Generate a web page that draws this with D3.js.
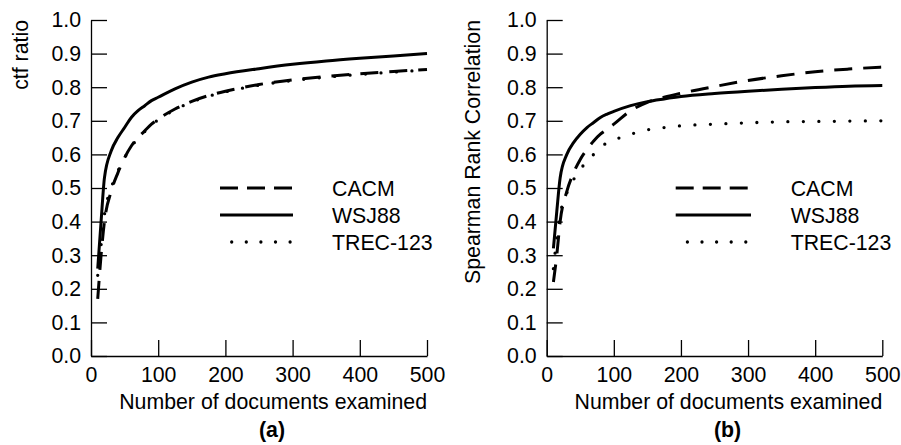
<!DOCTYPE html>
<html><head><meta charset="utf-8">
<script src="https://cdn.jsdelivr.net/npm/d3@7"></script>
<style>
body{margin:0;background:#fff;}
svg{display:block;font-family:"Liberation Sans",Arial,Helvetica,sans-serif;}
</style></head>
<body>
<svg id="c" width="901" height="445"></svg>
<script>
const xValues = [10,15,20,30,40,50,60,70,80,90,100,125,150,175,200,250,300,350,400,450,500];

const cacmA  = [0.17,0.30,0.40,0.49,0.545,0.59,0.625,0.65,0.67,0.69,0.705,0.735,0.758,0.775,0.788,0.808,0.822,0.832,0.840,0.847,0.853];
const wsjA   = [0.26,0.40,0.53,0.61,0.65,0.68,0.71,0.73,0.745,0.76,0.77,0.795,0.815,0.83,0.84,0.855,0.868,0.878,0.886,0.893,0.90];
const trecA  = [0.24,0.33,0.42,0.50,0.55,0.59,0.623,0.648,0.668,0.688,0.703,0.733,0.756,0.773,0.786,0.806,0.82,0.83,0.838,0.845,0.851];

const cacmB  = [0.22,0.30,0.40,0.49,0.545,0.585,0.615,0.64,0.66,0.675,0.69,0.73,0.755,0.77,0.782,0.802,0.82,0.834,0.846,0.854,0.86];
const wsjB   = [0.32,0.43,0.53,0.60,0.635,0.66,0.68,0.695,0.71,0.72,0.728,0.745,0.757,0.765,0.772,0.781,0.788,0.794,0.799,0.803,0.805];
const trecB  = [0.26,0.35,0.42,0.485,0.525,0.555,0.58,0.60,0.62,0.635,0.643,0.66,0.673,0.68,0.685,0.69,0.694,0.697,0.698,0.699,0.70];

const seriesNames = ["CACM","WSJ88","TREC-123"];
const xTicks = [0,100,200,300,400,500];
const yTicks = [0,0.1,0.2,0.3,0.4,0.5,0.6,0.7,0.8,0.9,1.0];
const panels = [
  {label:"(a)", yTitle:"ctf ratio", series:[cacmA,wsjA,trecA]},
  {label:"(b)", yTitle:"Spearman Rank Correlation", series:[cacmB,wsjB,trecB]}
];

const svg = d3.select("#c");
const FS = 21.3;
const styles = [
  {dash:"18,11", cap:"butt", w:3, legDash:"18,9"},
  {dash:null, cap:"butt", w:3, legDash:null},
  {dash:"0,15.5", cap:"round", w:3.3, legDash:"0,14.6"}
];
const layout = [
  {x0:91, x1:427, yTitleX:28, legX0:220, legX1:293, legTextX:332},
  {x0:546.7, x1:882.3, yTitleX:480, legX0:675.7, legX1:751, legTextX:790.7}
];
const yTop = 20, yBot = 356;
const legY = [188, 215, 242];

panels.forEach((p,i)=>{
  const L = layout[i];
  const x = d3.scaleLinear().domain([0,500]).range([L.x0,L.x1]);
  const y = d3.scaleLinear().domain([0,1]).range([yBot,yTop]);
  const g = svg.append("g");

  const yAxis = d3.axisLeft(y).tickValues(yTicks).tickFormat(d3.format(".1f"))
    .tickSizeInner(-16).tickSizeOuter(0).tickPadding(10);
  const ya = g.append("g").attr("transform",`translate(${L.x0},0)`).call(yAxis);
  const xAxis = d3.axisBottom(x).tickValues(xTicks).tickFormat(d3.format("d"))
    .tickSizeInner(-16).tickSizeOuter(0).tickPadding(11);
  const xa = g.append("g").attr("transform",`translate(0,${yBot})`).call(xAxis);
  [ya,xa].forEach(a=>{
    a.attr("font-size",FS).attr("font-family","'Liberation Sans',Arial,sans-serif");
    a.selectAll("path,line").attr("stroke","#000").attr("stroke-width",1.3);
    a.selectAll("text").attr("font-size",FS).attr("fill","#000");
  });

  g.append("text").attr("x",L.x1).attr("y",409).attr("text-anchor","end")
    .attr("font-size",FS).text("Number of documents examined");
  g.append("text").attr("x",(L.x0+L.x1)/2+13).attr("y",437).attr("text-anchor","middle")
    .attr("font-size",FS).attr("font-weight","bold").text(p.label);
  g.append("text").attr("transform",`translate(${L.yTitleX},${yTop}) rotate(-90)`)
    .attr("text-anchor","end").attr("font-size",FS).text(p.yTitle);

  const line = d3.line().x((d,k)=>x(xValues[k])).y(d=>y(d)).curve(d3.curveMonotoneX);
  p.series.forEach((s,k)=>{
    const st = styles[k];
    g.append("path").datum(s).attr("d",line).attr("fill","none").attr("stroke","#000")
      .attr("stroke-width",st.w).attr("stroke-linecap",st.cap)
      .attr("stroke-dasharray",st.dash);
  });

  seriesNames.forEach((n,k)=>{
    const st = styles[k];
    const lx0 = k===2 ? L.legX0+11.7 : L.legX0;
    g.append("line").attr("x1",lx0).attr("x2",L.legX1).attr("y1",legY[k]).attr("y2",legY[k])
      .attr("stroke","#000").attr("stroke-width",st.w).attr("stroke-linecap",st.cap)
      .attr("stroke-dasharray",st.legDash);
    g.append("text").attr("x",L.legTextX).attr("y",legY[k]).attr("dy","0.36em")
      .attr("font-size",FS).text(n);
  });
});
</script>
</body></html>
